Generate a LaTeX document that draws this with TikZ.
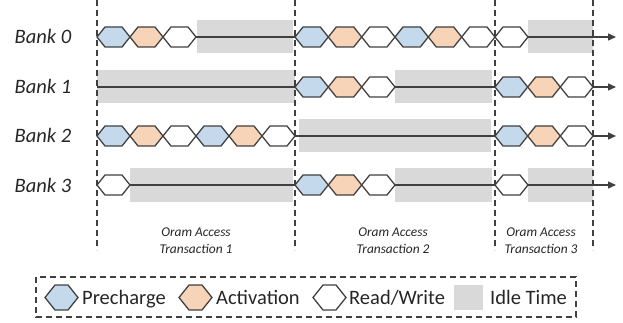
\documentclass[tikz,border=0pt]{standalone}
\usepackage{fontspec}
\setmainfont{Carlito}
\usetikzlibrary{arrows.meta}
\definecolor{precol}{HTML}{C5D9EC}
\definecolor{actcol}{HTML}{F7D4B8}
\definecolor{idlecol}{HTML}{D9D9D9}
\definecolor{ink}{HTML}{404040}
\definecolor{txt}{HTML}{262626}

% one timeline cell: hexagon from x=#1 to x=#2 on row #3, filled with #4
\newcommand\hexcell[4]{%
  \draw[cellline,fill=#4] (#1,#3) -- ({#1+8},{#3-10}) -- ({#2-8},{#3-10})
    -- (#2,#3) -- ({#2-8},{#3+10}) -- ({#1+8},{#3+10}) -- cycle;}
% larger hexagon for the key
\newcommand\keyhex[3]{%
  \draw[cellline,fill=#3] (#1,#2) -- ({#1+10},{#2-12.5}) -- ({#1+23},{#2-12.5})
    -- ({#1+33},#2) -- ({#1+23},{#2+12.5}) -- ({#1+10},{#2+12.5}) -- cycle;}
\newcommand\idle[4]{\fill[idlecol] (#1,#3) rectangle (#2,#4);}

\begin{document}
\begin{tikzpicture}[x=1pt,y=-1pt,
  cellline/.style={draw=ink,line width=1.3pt,line join=miter},
  timeline/.style={draw=ink,line width=1.3pt,-{Triangle[length=8pt,width=7pt]}},
  divider/.style={draw=ink,line width=1.2pt,dash pattern=on 6pt off 4pt},
  banklabel/.style={anchor=base,text=txt,font=\fontsize{20.5}{24}\selectfont\itshape,inner sep=0pt},
  txlabel/.style={anchor=base,text=txt,font=\fontsize{13.4}{16}\selectfont\itshape,inner sep=0pt},
  keylabel/.style={anchor=base west,text=txt,font=\fontsize{20.5}{24}\selectfont,inner sep=0pt}]
\useasboundingbox (0,0) rectangle (623,323);

% idle periods
\idle{197}{293}{20.5}{53.5}
\idle{528}{593}{20.5}{53.5}
\idle{97}{295}{70.5}{103.5}
\idle{395}{492}{70.5}{103.5}
\idle{299}{491}{119.5}{152.5}
\idle{130}{293}{168.5}{201.5}
\idle{395}{492}{168.5}{201.5}
\idle{528}{593}{168.5}{201.5}

% time axes
\coordinate (s0) at (97,37);  \coordinate (e0) at (616,37);
\coordinate (s1) at (97,87);  \coordinate (e1) at (616,87);
\coordinate (s2) at (97,136); \coordinate (e2) at (616,136);
\coordinate (s3) at (97,185); \coordinate (e3) at (616,185);
\draw[timeline] (s0) -- (e0);
\draw[timeline] (s1) -- (e1);
\draw[timeline] (s2) -- (e2);
\draw[timeline] (s3) -- (e3);

% Bank 0
\hexcell{97}{130}{37}{precol}
\hexcell{130}{163}{37}{actcol}
\hexcell{163}{196}{37}{white}
\hexcell{295}{328.3}{37}{precol}
\hexcell{328.3}{361.7}{37}{actcol}
\hexcell{361.7}{395}{37}{white}
\hexcell{395}{428.3}{37}{precol}
\hexcell{428.3}{461.7}{37}{actcol}
\hexcell{461.7}{495}{37}{white}
\hexcell{495}{528}{37}{white}
% Bank 1
\hexcell{295}{328.3}{87}{precol}
\hexcell{328.3}{361.7}{87}{actcol}
\hexcell{361.7}{395}{87}{white}
\hexcell{495}{527.7}{87}{precol}
\hexcell{527.7}{560.3}{87}{actcol}
\hexcell{560.3}{593}{87}{white}
% Bank 2
\hexcell{97}{130}{136}{precol}
\hexcell{130}{163}{136}{actcol}
\hexcell{163}{196}{136}{white}
\hexcell{196}{229}{136}{precol}
\hexcell{229}{262}{136}{actcol}
\hexcell{262}{295}{136}{white}
\hexcell{495}{527.7}{136}{precol}
\hexcell{527.7}{560.3}{136}{actcol}
\hexcell{560.3}{593}{136}{white}
% Bank 3
\hexcell{97}{130}{185}{white}
\hexcell{295}{328.3}{185}{precol}
\hexcell{328.3}{361.7}{185}{actcol}
\hexcell{361.7}{395}{185}{white}
\hexcell{495}{528}{185}{white}

% transaction boundaries
\coordinate (d1t) at (97,0);  \coordinate (d1b) at (97,250);
\coordinate (d2t) at (295,0); \coordinate (d2b) at (295,250);
\coordinate (d3t) at (495,0); \coordinate (d3b) at (495,250);
\coordinate (d4t) at (593,0); \coordinate (d4b) at (593,250);
\draw[divider] (d1t) -- (d1b);
\draw[divider] (d2t) -- (d2b);
\draw[divider] (d3t) -- (d3b);
\draw[divider] (d4t) -- (d4b);

% bank names
\node[banklabel] (bank0) at (43,44) {Bank 0};
\node[banklabel] (bank1) at (43,94) {Bank 1};
\node[banklabel] (bank2) at (43,143) {Bank 2};
\node[banklabel] (bank3) at (43,192) {Bank 3};

% transaction names
\node[txlabel] (tx1a) at (196,236) {Oram Access};
\node[txlabel] (tx1b) at (196,253) {Transaction 1};
\node[txlabel] (tx2a) at (393,236) {Oram Access};
\node[txlabel] (tx2b) at (393,253) {Transaction 2};
\node[txlabel] (tx3a) at (541,236) {Oram Access};
\node[txlabel] (tx3b) at (541,253) {Transaction 3};

% key
\draw[divider] (36,277) rectangle (576,317);
\keyhex{45}{297.5}{precol}
\node[keylabel] (kpre) at (82,304) {Precharge};
\keyhex{179}{297.5}{actcol}
\node[keylabel] (kact) at (216,304) {Activation};
\keyhex{313}{297.5}{white}
\node[keylabel] (krw) at (349,304) {Read/Write};
\fill[idlecol] (454,285) rectangle (483,310);
\node[keylabel] (kidle) at (490,304) {Idle Time};
\end{tikzpicture}
\end{document}
